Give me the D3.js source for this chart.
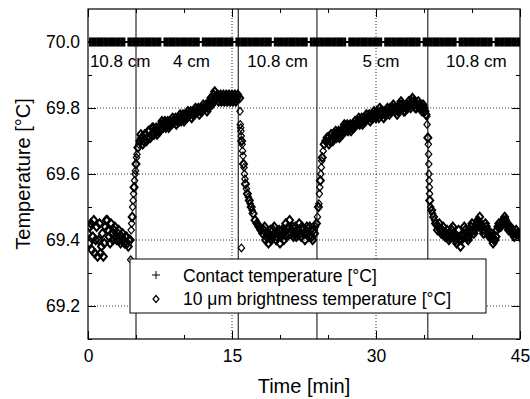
<!DOCTYPE html>
<html>
<head>
<meta charset="utf-8">
<script src="https://cdn.jsdelivr.net/npm/d3@7/dist/d3.min.js"></script>
<style>
body{margin:0;background:#fff}
svg text{font-family:"Liberation Sans",Arial,sans-serif;fill:#000}
</style>
</head>
<body>
<svg id="chart" width="530" height="399"></svg>
<script>
// contact temperature, one reading every 0.25 min (null = no reading)
var contactStep = 0.25
var contact = [
 null,70.0,70.0,70.0,70.0,70.0,70.0,70.0,70.0,70.0,
 70.0,70.0,70.0,70.0,70.0,70.0,null,70.0,70.0,70.0,
 70.0,70.0,70.0,70.0,70.0,70.0,70.0,70.0,70.0,70.0,
 70.0,null,70.0,70.0,70.0,70.0,70.0,70.0,70.0,70.0,
 70.0,70.0,70.0,70.0,70.0,70.0,70.0,null,70.0,70.0,
 70.0,70.0,70.0,70.0,70.0,70.0,70.0,70.0,70.0,70.0,
 70.0,null,70.0,70.0,70.0,70.0,70.0,70.0,70.0,70.0,
 70.0,70.0,70.0,70.0,70.0,70.0,70.0,null,70.0,70.0,
 70.0,70.0,70.0,70.0,70.0,70.0,70.0,70.0,70.0,70.0,
 70.0,70.0,null,70.0,70.0,70.0,70.0,70.0,70.0,70.0,
 70.0,70.0,70.0,70.0,70.0,70.0,70.0,70.0,null,70.0,
 70.0,70.0,70.0,70.0,70.0,70.0,70.0,70.0,70.0,70.0,
 70.0,70.0,70.0,null,70.0,70.0,70.0,70.0,70.0,70.0,
 70.0,70.0,70.0,70.0,70.0,70.0,70.0,70.0,70.0,null,
 70.0,70.0,70.0,70.0,70.0,70.0,70.0,70.0,70.0,70.0,
 70.0,70.0,70.0,70.0,null,70.0,70.0,70.0,70.0,70.0,
 70.0,70.0,70.0,70.0,70.0,70.0,70.0,70.0,70.0,null,
 70.0,70.0,70.0,70.0,70.0,70.0,70.0,70.0,70.0,70.0,
 70.0
]

// 10 um brightness temperature [min, degC]
var brightness = [
 [0.0,69.42],[0.2,69.44],[0.4,69.37],[0.6,69.46],[0.8,69.40],[1.0,69.35],[1.2,69.45],[1.4,69.38],[1.6,69.35],[1.8,69.44],
 [2.0,69.46],[2.2,69.41],[2.4,69.45],[2.6,69.40],[2.8,69.44],[3.0,69.40],[3.2,69.43],[3.4,69.39],[3.6,69.42],[3.8,69.39],
 [4.0,69.41],[4.2,69.38],[4.4,69.40],[4.6,69.47],[4.8,69.56],[5.0,69.63],[5.2,69.68],
 [5.4,69.70],[5.6,69.71],[5.8,69.70],[6.0,69.72],[6.2,69.71],[6.4,69.73],[6.6,69.72],[6.8,69.74],[7.0,69.73],[7.2,69.72],
 [7.4,69.74],[7.6,69.75],[7.8,69.74],[8.0,69.76],[8.2,69.75],[8.4,69.74],[8.6,69.76],[8.8,69.77],[9.0,69.76],[9.2,69.75],
 [9.4,69.77],[9.6,69.78],[9.8,69.77],[10.0,69.76],[10.2,69.78],[10.4,69.79],[10.6,69.78],[10.8,69.77],[11.0,69.79],[11.2,69.80],
 [11.4,69.79],[11.6,69.78],[11.8,69.80],[12.0,69.81],[12.2,69.80],[12.4,69.79],[12.6,69.81],[12.8,69.83],[13.0,69.82],[13.2,69.85],
 [13.4,69.83],[13.6,69.82],[13.8,69.84],[14.0,69.83],[14.2,69.82],[14.4,69.84],[14.6,69.83],[14.8,69.82],[15.0,69.84],[15.2,69.83],
 [15.4,69.82],[15.6,69.84],[15.8,69.83],[16.0,69.70],[16.2,69.63],[16.4,69.57],[16.6,69.54],[16.8,69.52],[17.0,69.50],[17.2,69.48],
 [17.4,69.46],[17.6,69.45],[17.8,69.44],[18.0,69.43],
 [18.2,69.42],[18.4,69.44],[18.6,69.41],[18.8,69.39],[19.0,69.43],[19.2,69.41],[19.4,69.44],[19.6,69.40],[19.8,69.42],[20.0,69.39],
 [20.2,69.43],[20.4,69.40],[20.6,69.45],[20.8,69.42],[21.0,69.46],[21.2,69.43],[21.4,69.41],[21.6,69.44],[21.8,69.42],[22.0,69.45],
 [22.2,69.41],[22.4,69.43],[22.6,69.40],[22.8,69.44],[23.0,69.41],[23.2,69.43],[23.4,69.40],[23.6,69.42],
 [23.8,69.45],[24.0,69.50],[24.2,69.58],[24.4,69.65],[24.6,69.69],
 [24.8,69.70],[25.0,69.71],[25.2,69.70],[25.4,69.72],[25.6,69.71],[25.8,69.73],[26.0,69.72],[26.2,69.71],[26.4,69.73],[26.6,69.74],
 [26.8,69.73],[27.0,69.75],[27.2,69.74],[27.4,69.73],[27.6,69.75],[27.8,69.76],[28.0,69.75],[28.2,69.77],[28.4,69.76],[28.6,69.75],
 [28.8,69.77],[29.0,69.78],[29.2,69.77],[29.4,69.76],[29.6,69.78],[29.8,69.79],[30.0,69.77],[30.2,69.78],[30.4,69.80],[30.6,69.78],
 [30.8,69.77],[31.0,69.79],[31.2,69.80],[31.4,69.78],[31.6,69.79],[31.8,69.81],[32.0,69.79],[32.2,69.78],[32.4,69.80],[32.6,69.82],
 [32.8,69.80],[33.0,69.79],[33.2,69.81],[33.4,69.82],[33.6,69.80],[33.8,69.83],[34.0,69.81],[34.2,69.80],[34.4,69.82],[34.6,69.81],
 [34.8,69.79],[35.0,69.80],[35.2,69.78],
 [35.4,69.71],[35.6,69.52],[35.8,69.49],[36.0,69.47],[36.2,69.45],[36.4,69.43],[36.6,69.45],[36.8,69.42],[37.0,69.44],[37.2,69.41],
 [37.4,69.43],[37.6,69.40],[37.8,69.42],[38.0,69.44],[38.2,69.41],[38.4,69.39],[38.6,69.43],[38.8,69.38],[39.0,69.41],[39.2,69.44],
 [39.4,69.42],[39.6,69.40],[39.8,69.43],[40.0,69.45],[40.2,69.42],[40.4,69.44],[40.6,69.46],[40.8,69.47],[41.0,69.44],[41.2,69.42],
 [41.4,69.45],[41.6,69.43],[41.8,69.41],[42.0,69.42],[42.2,69.39],[42.4,69.40],[42.6,69.43],[42.8,69.45],[43.0,69.44],[43.2,69.46],
 [43.4,69.47],[43.6,69.45],[43.8,69.43],[44.0,69.44],[44.2,69.42],[44.4,69.41],[44.6,69.43],[44.8,69.42],[45.0,69.41]
]
// readings in between the ones above
var brightnessMid = [
 [0.1,69.39],[0.3,69.45],[0.5,69.41],[0.7,69.36],[0.9,69.44],[1.1,69.40],[1.3,69.36],[1.5,69.42],[1.7,69.39],[1.9,69.46],
 [2.1,69.43],[2.3,69.39],[2.5,69.42],[2.7,69.43],[2.9,69.41],[3.1,69.42],[3.3,69.40],[3.5,69.41],[3.7,69.40],[3.9,69.41],
 [4.1,69.39],[4.3,69.40],
 [5.5,69.72],[5.7,69.69],[5.9,69.72],[6.1,69.70],[6.3,69.73],[6.5,69.71],[6.7,69.74],[6.9,69.72],[7.1,69.74],[7.3,69.73],
 [7.5,69.73],[7.7,69.76],[7.9,69.75],[8.1,69.74],[8.3,69.76],[8.5,69.75],[8.7,69.75],[8.9,69.76],[9.1,69.77],[9.3,69.76],
 [9.5,69.76],[9.7,69.76],[9.9,69.78],[10.1,69.77],[10.3,69.77],[10.5,69.78],[10.7,69.79],[10.9,69.78],[11.1,69.78],[11.3,69.79],
 [11.5,69.80],[11.7,69.79],[11.9,69.79],[12.1,69.80],[12.3,69.81],[12.5,69.80],[12.7,69.82],[12.9,69.81],[13.1,69.84],[13.3,69.83],
 [13.5,69.84],[13.7,69.83],[13.9,69.82],[14.1,69.84],[14.3,69.83],[14.5,69.82],[14.7,69.84],[14.9,69.83],[15.1,69.82],[15.3,69.84],
 [15.5,69.83],
 [18.3,69.43],[18.5,69.40],[18.7,69.42],[18.9,69.41],[19.1,69.40],[19.3,69.43],[19.5,69.42],[19.7,69.41],[19.9,69.43],[20.1,69.41],
 [20.3,69.42],[20.5,69.43],[20.7,69.41],[20.9,69.44],[21.1,69.42],[21.3,69.44],[21.5,69.42],[21.7,69.41],[21.9,69.43],[22.1,69.42],
 [22.3,69.44],[22.5,69.42],[22.7,69.42],[22.9,69.42],[23.1,69.44],[23.3,69.41],[23.5,69.43],
 [24.9,69.71],[25.1,69.69],[25.3,69.72],[25.5,69.70],[25.7,69.72],[25.9,69.71],[26.1,69.73],[26.3,69.72],[26.5,69.72],[26.7,69.75],
 [26.9,69.74],[27.1,69.73],[27.3,69.75],[27.5,69.74],[27.7,69.74],[27.9,69.75],[28.1,69.76],[28.3,69.75],[28.5,69.77],[28.7,69.76],
 [28.9,69.76],[29.1,69.77],[29.3,69.78],[29.5,69.77],[29.7,69.77],[29.9,69.78],[30.1,69.79],[30.3,69.77],[30.5,69.79],[30.7,69.79],
 [30.9,69.78],[31.1,69.78],[31.3,69.79],[31.5,69.80],[31.7,69.80],[31.9,69.80],[32.1,69.80],[32.3,69.79],[32.5,69.81],[32.7,69.81],
 [32.9,69.79],[33.1,69.80],[33.3,69.80],[33.5,69.81],[33.7,69.82],[33.9,69.82],[34.1,69.80],[34.3,69.81],[34.5,69.81],[34.7,69.80],
 [34.9,69.81],[35.1,69.79],
 [36.5,69.44],[36.7,69.43],[36.9,69.43],[37.1,69.42],[37.3,69.42],[37.5,69.41],[37.7,69.41],[37.9,69.43],[38.1,69.42],[38.3,69.40],
 [38.5,69.41],[38.7,69.40],[38.9,69.40],[39.1,69.42],[39.3,69.43],[39.5,69.41],[39.7,69.41],[39.9,69.44],[40.1,69.43],[40.3,69.43],
 [40.5,69.45],[40.7,69.45],[40.9,69.45],[41.1,69.43],[41.3,69.43],[41.5,69.44],[41.7,69.42],[41.9,69.41],[42.1,69.41],[42.3,69.40],
 [42.5,69.41],[42.7,69.44],[42.9,69.44],[43.1,69.45],[43.3,69.46],[43.5,69.46],[43.7,69.44],[43.9,69.44],[44.1,69.43],[44.3,69.42],
 [44.5,69.42],[44.7,69.42],[44.9,69.42]
]
// extra readings during the fast steps
var brightnessFast = [
 [4.45,69.34],[4.5,69.43],[4.55,69.45],[4.65,69.50],[4.7,69.52],[4.75,69.54],[4.85,69.58],[4.9,69.60],[4.95,69.61],[5.05,69.65],[5.1,69.66],[5.3,69.69],
 [15.83,69.79],[15.86,69.75],[15.9,69.74],[15.93,69.73],[15.96,69.715],[15.98,69.376],[16.05,69.69],[16.1,69.67],[16.15,69.655],[16.25,69.62],
 [16.3,69.60],[16.35,69.585],[16.5,69.555],[16.7,69.53],[16.9,69.51],[17.1,69.49],
 [23.7,69.44],[23.9,69.47],[24.05,69.51],[24.1,69.54],[24.15,69.56],[24.25,69.60],[24.3,69.62],[24.35,69.64],[24.5,69.67],[24.7,69.70],
 [35.3,69.775],[35.32,69.75],[35.45,69.69],[35.48,69.66],[35.5,69.63],[35.52,69.60],[35.54,69.58],[35.56,69.56],[35.58,69.54],
 [35.7,69.50],[35.9,69.48],[36.1,69.46],[36.3,69.445]
]

// times where the distance was changed, and the distance labels
var changeTimes = [5.0, 15.65, 23.85, 35.4]
var distLabels = ["10.8 cm", "4 cm", "10.8 cm", "5 cm", "10.8 cm"]
var distLabelAt = [0.2, 8.85, 16.6, 28.6, 37.3]

var xMajor = [0, 15, 30, 45], xMinor = [5, 10, 20, 25, 35, 40]
var yMajor = [69.2, 69.4, 69.6, 69.8, 70.0], yMinor = [69.1, 69.3, 69.5, 69.7, 69.9]

var legendItems = ["Contact temperature [°C]", "10 \u03bcm brightness temperature [°C]"]

var plotL = 88, plotR = 520, plotT = 9, plotB = 339

var x = d3.scaleLinear().domain([0, 45]).range([plotL, plotR])
var y = d3.scaleLinear().domain([69.1, 70.1]).range([plotB, plotT])

var svg = d3.select("#chart")

svg.append("defs").append("clipPath").attr("id", "plotclip")
    .append("rect").attr("x", plotL).attr("y", plotT)
    .attr("width", plotR - plotL).attr("height", plotB - plotT)

// dotted grid
svg.append("g").selectAll("line")
    .data(yMajor)
    .enter().append("line")
    .attr("x1", plotL).attr("x2", plotR)
    .attr("y1", d => y(d)).attr("y2", d => y(d))
    .attr("stroke", "#000").attr("stroke-width", 0.8).attr("stroke-dasharray", "1,2")
svg.append("g").selectAll("line")
    .data([15, 30])
    .enter().append("line")
    .attr("y1", plotT).attr("y2", plotB)
    .attr("x1", d => x(d)).attr("x2", d => x(d))
    .attr("stroke", "#000").attr("stroke-width", 0.8).attr("stroke-dasharray", "1,2")

// solid lines where the distance changes
svg.append("g").selectAll("line")
    .data(changeTimes)
    .enter().append("line")
    .attr("y1", plotT).attr("y2", plotB)
    .attr("x1", d => x(d)).attr("x2", d => x(d))
    .attr("stroke", "#000").attr("stroke-width", 1)

var plot = svg.append("g").attr("clip-path", "url(#plotclip)")

// contact temperature: + markers, packed so tight they read as a thick bar
var plusPath = "M-1.4,-4.5H1.4V-1H4V1H1.4V4.5H-1.4V1H-4V-1H-1.4Z"
plot.append("g").selectAll("path")
    .data(contact.map((v, i) => [i * contactStep, v]).filter(d => d[1] !== null))
    .enter().append("path")
    .attr("d", plusPath)
    .attr("transform", d => "translate(" + x(d[0]) + "," + y(d[1]) + ")")
    .attr("fill", "#000")

// brightness temperature: open diamonds
var diamondPath = "M0,-4.2L3.5,0L0,4.2L-3.5,0Z"
plot.append("g").selectAll("path")
    .data(brightness.concat(brightnessMid))
    .enter().append("path")
    .attr("d", diamondPath)
    .attr("transform", d => "translate(" + x(d[0]) + "," + y(d[1]) + ")")
    .attr("fill", "none").attr("stroke", "#000").attr("stroke-width", 2)
plot.append("g").selectAll("path")
    .data(brightnessFast)
    .enter().append("path")
    .attr("d", "M0,-3.8L3.2,0L0,3.8L-3.2,0Z")
    .attr("transform", d => "translate(" + x(d[0]) + "," + y(d[1]) + ")")
    .attr("fill", "none").attr("stroke", "#000").attr("stroke-width", 1.2)

// distance labels
svg.append("g").selectAll("text")
    .data(distLabels)
    .enter().append("text")
    .attr("x", (d, i) => x(distLabelAt[i]))
    .attr("y", 67)
    .attr("font-size", "17px")
    .text(d => d)

// axes, ticks pointing inward
function styleAxis(g) {
    g.select(".domain").remove()
    g.selectAll(".tick line").attr("stroke", "#000").attr("stroke-width", 1)
    g.selectAll(".tick text").attr("font-size", "17.5px").attr("fill", "#000")
        .attr("font-family", '"Liberation Sans",Arial,sans-serif')
}
svg.append("g").attr("transform", "translate(0," + plotB + ")")
    .call(d3.axisBottom(x).tickValues(xMajor).tickFormat(d3.format("d")).tickSizeInner(-8).tickSizeOuter(0).tickPadding(11))
    .call(styleAxis)
svg.append("g").attr("transform", "translate(0," + plotB + ")")
    .call(d3.axisBottom(x).tickValues(xMinor).tickFormat("").tickSizeInner(-4).tickSizeOuter(0))
    .call(styleAxis)
svg.append("g").attr("transform", "translate(0," + plotT + ")")
    .call(d3.axisTop(x).tickValues(xMajor).tickFormat("").tickSizeInner(-8).tickSizeOuter(0))
    .call(styleAxis)
svg.append("g").attr("transform", "translate(0," + plotT + ")")
    .call(d3.axisTop(x).tickValues(xMinor).tickFormat("").tickSizeInner(-4).tickSizeOuter(0))
    .call(styleAxis)
svg.append("g").attr("transform", "translate(" + plotL + ",0)")
    .call(d3.axisLeft(y).tickValues(yMajor).tickFormat(d3.format(".1f")).tickSizeInner(-8).tickSizeOuter(0).tickPadding(8))
    .call(styleAxis)
svg.append("g").attr("transform", "translate(" + plotL + ",0)")
    .call(d3.axisLeft(y).tickValues(yMinor).tickFormat("").tickSizeInner(-4).tickSizeOuter(0))
    .call(styleAxis)
svg.append("g").attr("transform", "translate(" + plotR + ",0)")
    .call(d3.axisRight(y).tickValues(yMajor).tickFormat("").tickSizeInner(-8).tickSizeOuter(0))
    .call(styleAxis)
svg.append("g").attr("transform", "translate(" + plotR + ",0)")
    .call(d3.axisRight(y).tickValues(yMinor).tickFormat("").tickSizeInner(-4).tickSizeOuter(0))
    .call(styleAxis)

// legend
var lg = svg.append("g")
lg.append("rect")
    .attr("x", 130).attr("y", 259).attr("width", 356).attr("height", 54)
    .attr("fill", "#fff").attr("stroke", "#000").attr("stroke-width", 1)
lg.append("path").attr("d", "M-4,0H4M0,-4V4")
    .attr("transform", "translate(156,275)")
    .attr("fill", "none").attr("stroke", "#000").attr("stroke-width", 1)
lg.append("path").attr("d", "M0,-3.5L3,0L0,3.5L-3,0Z")
    .attr("transform", "translate(156,299)")
    .attr("fill", "none").attr("stroke", "#000").attr("stroke-width", 1.2)
lg.selectAll("text")
    .data(legendItems)
    .enter().append("text")
    .attr("x", 183)
    .attr("y", (d, i) => 282 + i * 23)
    .attr("font-size", "17.5px")
    .text(d => d)

// frame
svg.append("rect")
    .attr("x", plotL).attr("y", plotT).attr("width", plotR - plotL).attr("height", plotB - plotT)
    .attr("fill", "none").attr("stroke", "#000").attr("stroke-width", 1.2)

// axis titles
svg.append("text")
    .attr("x", (plotL + plotR) / 2).attr("y", 393)
    .attr("text-anchor", "middle").attr("font-size", "20px")
    .text("Time [min]")
svg.append("text")
    .attr("transform", "translate(30," + (plotT + plotB) / 2 + ") rotate(-90)")
    .attr("text-anchor", "middle").attr("font-size", "20px")
    .text("Temperature [°C]")
</script>
</body>
</html>
